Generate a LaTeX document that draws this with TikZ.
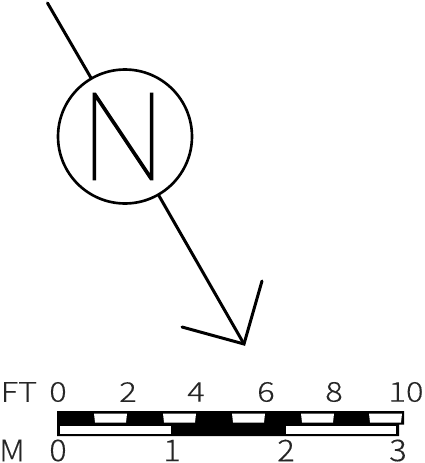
\documentclass[tikz,border=0pt]{standalone}
\usepackage{fontspec}
\setmainfont[FakeBold=0.3]{Noto Sans CJK JP Light}
\newfontfamily\northfont[FakeBold=0.9]{Poppins Thin}
\tikzset{
  needle/.style={line width=1.7pt,line cap=round,line join=miter},
  scalelabel/.style={font=\fontsize{15.5}{17}\selectfont,inner sep=0pt,text=black!85,xscale=1.2},
  barwhite/.style={fill=white,draw=none},
}
\begin{document}
\begin{tikzpicture}[x=0.02cm,y=-0.02cm]
                \useasboundingbox (0,0) rectangle (425,463);
                \node[draw,circle,line width=1.5pt,minimum size=2.68cm,inner sep=0pt] (C) at (125,136.5) {};
                \node[inner sep=0pt,xscale=1.02,font=\northfont\fontsize{70}{70}\selectfont] (N) at (123,136.5) {N};
                \coordinate (tail) at (47.5,3);
                \coordinate (tip) at (244,344);
                \coordinate (barbl) at (182,327);
                \coordinate (barbr) at (262,281);
                \draw[needle] (tail) -- (C);
                \draw[needle] (C) -- (tip);
                \draw[needle] (barbl) -- (tip) -- (barbr);
                % bar
                \fill[black] (57,411) -- (404,411) -- (404,424.5) -- (399,424.5) -- (399,436) -- (57,436) -- cycle;
                \foreach \x in {94,163,232,301,369} {
                    \fill[barwhite] (\x,413.5) -- ++(33,0) -- ++(-1,9) -- ++(-31,0) -- cycle;
                }
                \fill[barwhite] (60,425.5) rectangle (171,433.5);
                \fill[barwhite] (286,425.5) rectangle (396,433.5);
                % labels
                \node[scalelabel] (FT) at (19,392) {FT};
                \foreach \x/\t in {58/0,128/2,196/4,266/6,334/8,406/10} {
                    \node[scalelabel] (ft\t) at (\x,392) {\t};
                }
                \node[scalelabel,yscale=1.1] (M) at (12,450.5) {M};
                \foreach \x/\t in {58/0,172/1,286/2,398/3} {
                    \node[scalelabel,yscale=1.1] (m\t) at (\x,450.5) {\t};
                }
\end{tikzpicture}
\end{document}
